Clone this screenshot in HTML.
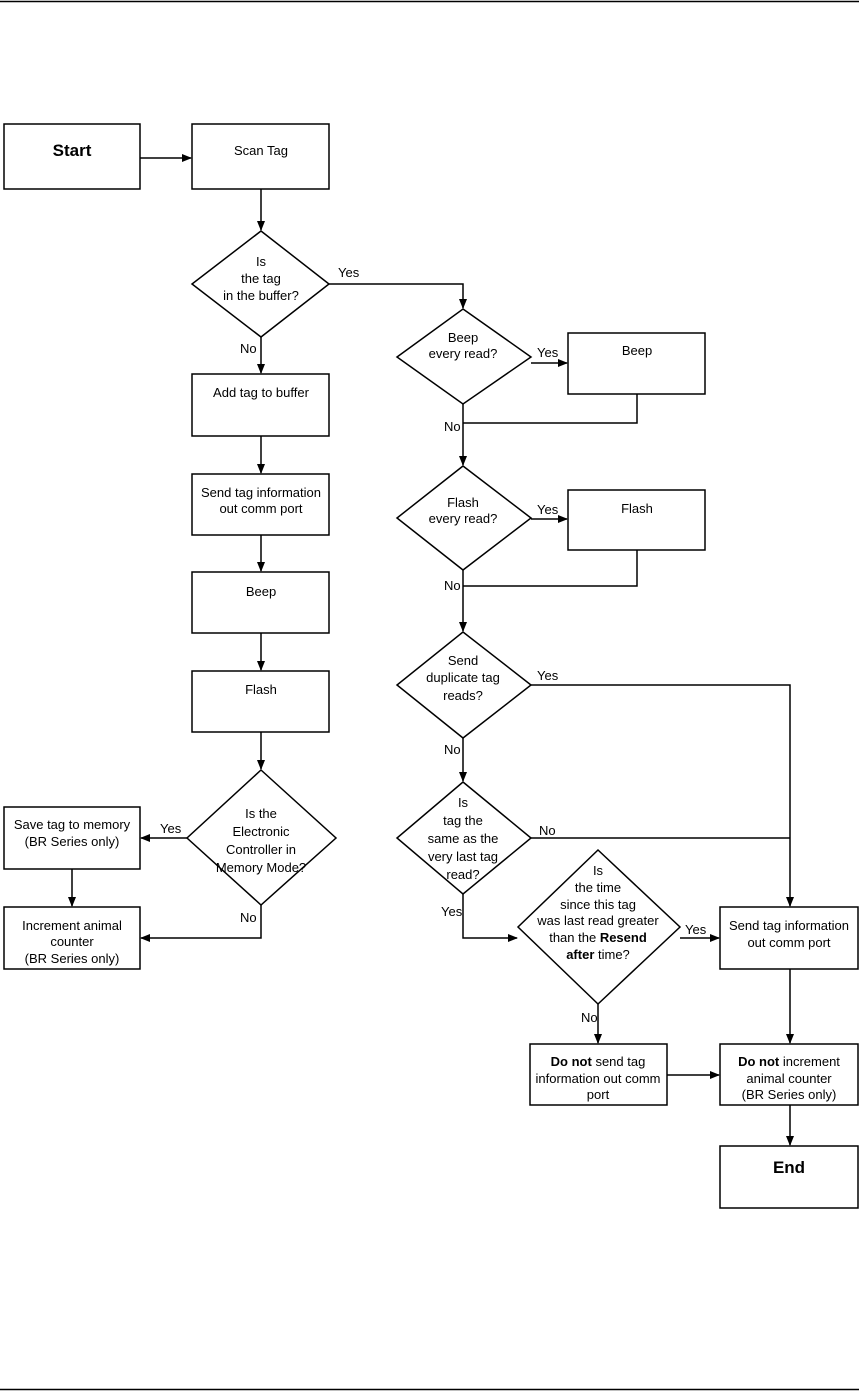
<!DOCTYPE html>
<html><head><meta charset="utf-8"><style>
html,body{margin:0;padding:0;background:#fff}
svg{display:block}
text{font-family:"Liberation Sans",Arial,sans-serif;font-size:13px;fill:#000}
.b{font-weight:bold}
</style></head><body>
<svg width="859" height="1394" viewBox="0 0 859 1394" xmlns="http://www.w3.org/2000/svg">
<defs><marker id="a" markerWidth="10" markerHeight="8" refX="9" refY="4" orient="auto" markerUnits="userSpaceOnUse"><path d="M0,0 L10,4 L0,8 z" fill="#000"/></marker></defs>
<line x1="0" y1="1.5" x2="859" y2="1.5" stroke="#000" stroke-width="1.5"/>
<line x1="0" y1="1389.5" x2="859" y2="1389.5" stroke="#000" stroke-width="1.5"/>
<g fill="none" stroke="#000" stroke-width="1.5">
<rect x="4" y="124" width="136" height="65"/>
<rect x="192" y="124" width="137" height="65"/>
<polygon points="261,231 329,284 261,337 192,284"/>
<rect x="192" y="374" width="137" height="62"/>
<rect x="192" y="474" width="137" height="61"/>
<rect x="192" y="572" width="137" height="61"/>
<rect x="192" y="671" width="137" height="61"/>
<polygon points="261,770 336,838 261,905 187,838"/>
<rect x="4" y="807" width="136" height="62"/>
<rect x="4" y="907" width="136" height="62"/>
<polygon points="463,309 531,357 463,404 397,357"/>
<rect x="568" y="333" width="137" height="61"/>
<polygon points="463,466 531,518 463,570 397,518"/>
<rect x="568" y="490" width="137" height="60"/>
<polygon points="463,632 531,685 463,738 397,685"/>
<polygon points="463,782 531,838 463,894 397,838"/>
<polygon points="598,850 680,927 598,1004 518,927"/>
<rect x="720" y="907" width="138" height="62"/>
<rect x="530" y="1044" width="137" height="61"/>
<rect x="720" y="1044" width="138" height="61"/>
<rect x="720" y="1146" width="138" height="62"/>
</g>
<g fill="none" stroke="#000" stroke-width="1.5">
<line x1="140" y1="158" x2="191" y2="158" marker-end="url(#a)"/>
<line x1="261" y1="189" x2="261" y2="230" marker-end="url(#a)"/>
<polyline points="329,284 463,284 463,308" marker-end="url(#a)"/>
<line x1="261" y1="337" x2="261" y2="373" marker-end="url(#a)"/>
<line x1="261" y1="436" x2="261" y2="473" marker-end="url(#a)"/>
<line x1="261" y1="535" x2="261" y2="571" marker-end="url(#a)"/>
<line x1="261" y1="633" x2="261" y2="670" marker-end="url(#a)"/>
<line x1="261" y1="732" x2="261" y2="769" marker-end="url(#a)"/>
<line x1="187" y1="838" x2="141" y2="838" marker-end="url(#a)"/>
<line x1="72" y1="869" x2="72" y2="906" marker-end="url(#a)"/>
<polyline points="261,905 261,938 141,938" marker-end="url(#a)"/>
<line x1="531" y1="363" x2="567" y2="363" marker-end="url(#a)"/>
<polyline points="637,394 637,423 463,423"/>
<line x1="463" y1="404" x2="463" y2="465" marker-end="url(#a)"/>
<line x1="531" y1="519" x2="567" y2="519" marker-end="url(#a)"/>
<polyline points="637,550 637,586 463,586"/>
<line x1="463" y1="570" x2="463" y2="631" marker-end="url(#a)"/>
<polyline points="531,685 790,685 790,906" marker-end="url(#a)"/>
<line x1="463" y1="738" x2="463" y2="781" marker-end="url(#a)"/>
<line x1="531" y1="838" x2="790" y2="838"/>
<polyline points="463,894 463,938 517,938" marker-end="url(#a)"/>
<line x1="680" y1="938" x2="719" y2="938" marker-end="url(#a)"/>
<line x1="790" y1="969" x2="790" y2="1043" marker-end="url(#a)"/>
<line x1="598" y1="1004" x2="598" y2="1043" marker-end="url(#a)"/>
<line x1="667" y1="1075" x2="719" y2="1075" marker-end="url(#a)"/>
<line x1="790" y1="1105" x2="790" y2="1145" marker-end="url(#a)"/>
</g>
<g text-anchor="middle">
<text x="72" y="156" class="b" style="font-size:17px">Start</text>
<text x="261" y="155">Scan Tag</text>
<text x="261" y="266">Is</text>
<text x="261" y="283">the tag</text>
<text x="261" y="300">in the buffer?</text>
<text x="261" y="397">Add tag to buffer</text>
<text x="261" y="497">Send tag information</text>
<text x="261" y="513">out comm port</text>
<text x="261" y="596">Beep</text>
<text x="261" y="694">Flash</text>
<text x="261" y="818">Is the</text>
<text x="261" y="836">Electronic</text>
<text x="261" y="854">Controller in</text>
<text x="261" y="872">Memory Mode?</text>
<text x="72" y="829">Save tag to memory</text>
<text x="72" y="846">(BR Series only)</text>
<text x="72" y="930">Increment animal</text>
<text x="72" y="946">counter</text>
<text x="72" y="963">(BR Series only)</text>
<text x="463" y="342">Beep</text>
<text x="463" y="358">every read?</text>
<text x="637" y="355">Beep</text>
<text x="463" y="507">Flash</text>
<text x="463" y="523">every read?</text>
<text x="637" y="513">Flash</text>
<text x="463" y="665">Send</text>
<text x="463" y="682">duplicate tag</text>
<text x="463" y="700">reads?</text>
<text x="463" y="807">Is</text>
<text x="463" y="825">tag the</text>
<text x="463" y="843">same as the</text>
<text x="463" y="861">very last tag</text>
<text x="463" y="879">read?</text>
<text x="598" y="875">Is</text>
<text x="598" y="892">the time</text>
<text x="598" y="909">since this tag</text>
<text x="598" y="925">was last read greater</text>
<text x="598" y="942">than the <tspan class="b">Resend</tspan></text>
<text x="598" y="959"><tspan class="b">after</tspan> time?</text>
<text x="789" y="930">Send tag information</text>
<text x="789" y="947">out comm port</text>
<text x="598" y="1066"><tspan class="b">Do not</tspan> send tag</text>
<text x="598" y="1083">information out comm</text>
<text x="598" y="1099">port</text>
<text x="789" y="1066"><tspan class="b">Do not</tspan> increment</text>
<text x="789" y="1083">animal counter</text>
<text x="789" y="1099">(BR Series only)</text>
<text x="789" y="1173" class="b" style="font-size:17px">End</text>
</g>
<g>
<text x="338" y="277">Yes</text>
<text x="240" y="353">No</text>
<text x="160" y="833">Yes</text>
<text x="240" y="922">No</text>
<text x="537" y="357">Yes</text>
<text x="444" y="431">No</text>
<text x="537" y="514">Yes</text>
<text x="444" y="590">No</text>
<text x="537" y="680">Yes</text>
<text x="444" y="754">No</text>
<text x="539" y="835">No</text>
<text x="441" y="916">Yes</text>
<text x="685" y="934">Yes</text>
<text x="581" y="1022">No</text>
</g>
</svg>
</body></html>
